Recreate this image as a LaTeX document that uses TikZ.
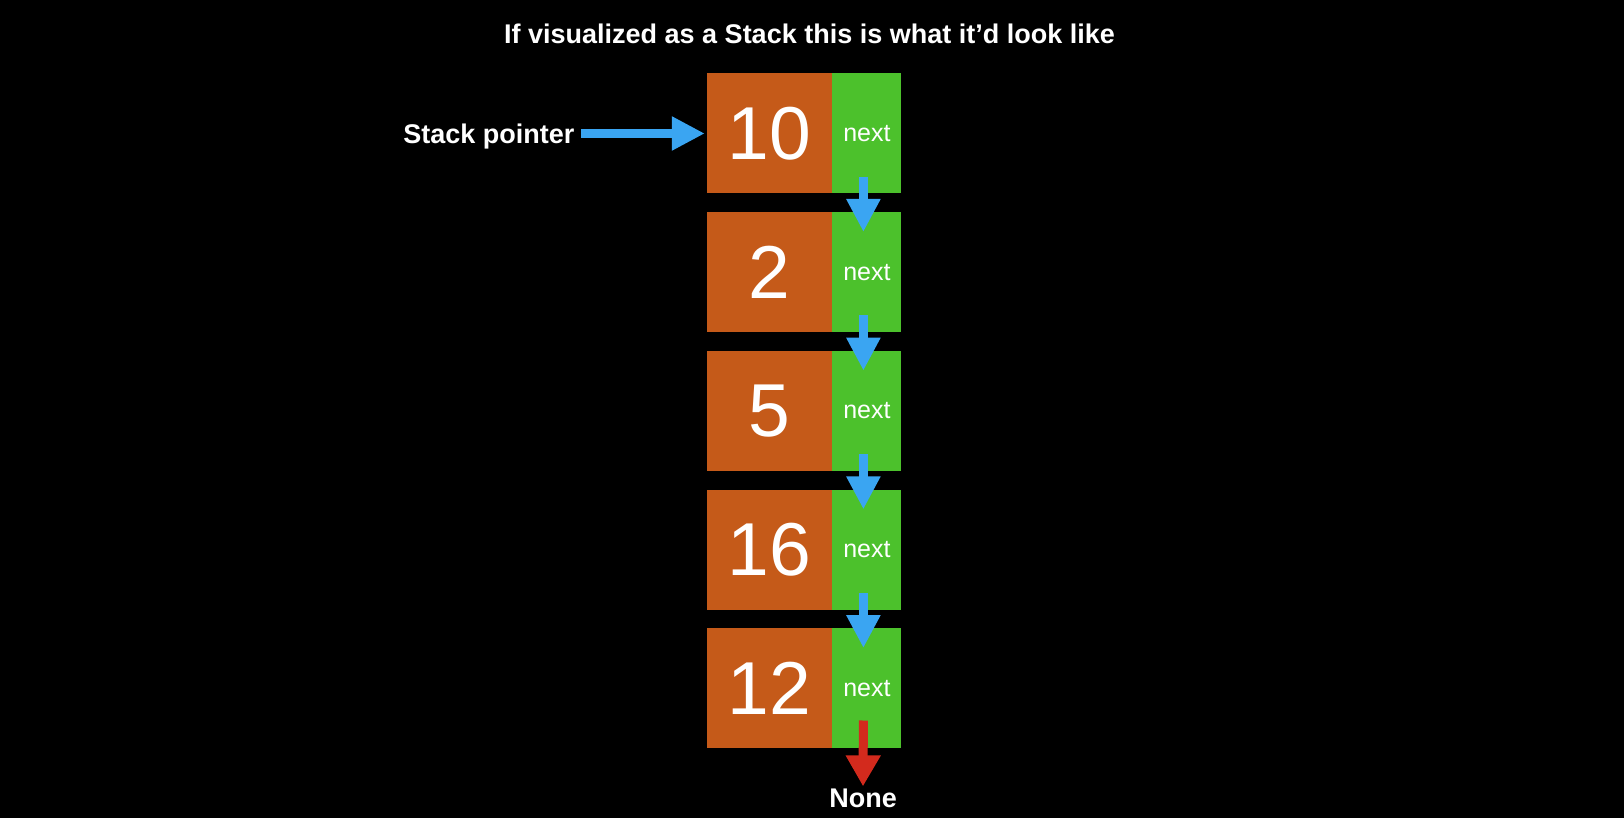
\documentclass[tikz,border=0pt]{standalone}
\usepackage{fontspec}
\setmainfont{Liberation Sans}
\usetikzlibrary{arrows.meta,positioning,calc}
\definecolor{rust}{HTML}{C55A19}
\definecolor{leaf}{HTML}{4CC12C}
\definecolor{sky}{HTML}{3AA5F2}
\definecolor{alert}{HTML}{D32A1D}

\tikzset{
  valbox/.style={fill=rust, text=white, minimum width=125pt, minimum height=120pt,
    inner sep=0pt, font=\fontsize{75}{75}\selectfont},
  nextbox/.style={fill=leaf, text=white, minimum width=69pt, minimum height=120pt,
    inner sep=0pt, font=\fontsize{25}{25}\selectfont},
  link/.style={draw=sky, line width=9pt, -{Triangle[length=33pt,width=32pt,fill=sky]}},
  heading/.style={text=white, inner sep=0pt, font=\fontsize{27}{27}\selectfont\bfseries}
}

\begin{document}
\begin{tikzpicture}[x=1pt, y=-1pt]
  \useasboundingbox (0,0) rectangle (1624,818);
  \fill[black] (0,0) rectangle (1624,818);
  \node[heading] (title) at (809.5,33.7) {If visualized as a Stack this is what it’d look like};

  % the stack, top to bottom
  \node[valbox] (val1) at (769.5,133.5) {10};
  \node[nextbox, right=0pt of val1] (nxt1) {next};
  \node[valbox, below=18.3pt of val1] (val2) {2};
  \node[nextbox, right=0pt of val2] (nxt2) {next};
  \node[valbox, below=18.3pt of val2] (val3) {5};
  \node[nextbox, right=0pt of val3] (nxt3) {next};
  \node[valbox, below=18.3pt of val3] (val4) {16};
  \node[nextbox, right=0pt of val4] (nxt4) {next};
  \node[valbox, below=18.3pt of val4] (val5) {12};
  \node[nextbox, right=0pt of val5] (nxt5) {next};

  % pointer
  \node[heading, anchor=base east] (sp) at (574.6,143.3) {Stack pointer};
  \draw[link] ([xshift=6.4pt]sp.east |- val1.west) -- ([xshift=-2pt]val1.west);

  % next links
  \draw[link] ([xshift=-3.5pt,yshift=17pt]nxt1.south) -- ([xshift=-3.5pt,yshift=-20pt]nxt2.north);
  \draw[link] ([xshift=-3.5pt,yshift=17pt]nxt2.south) -- ([xshift=-3.5pt,yshift=-20pt]nxt3.north);
  \draw[link] ([xshift=-3.5pt,yshift=17pt]nxt3.south) -- ([xshift=-3.5pt,yshift=-20pt]nxt4.north);
  \draw[link] ([xshift=-3.5pt,yshift=17pt]nxt4.south) -- ([xshift=-3.5pt,yshift=-20pt]nxt5.north);

  \node[heading] (none) at (863,798.5) {None};
  \draw[link, draw=alert, -{Triangle[length=31pt,width=33pt,fill=alert]}]
    ([xshift=-3.5pt,yshift=28pt]nxt5.south) -- ([yshift=2.5pt]none.north);
\end{tikzpicture}
\end{document}
